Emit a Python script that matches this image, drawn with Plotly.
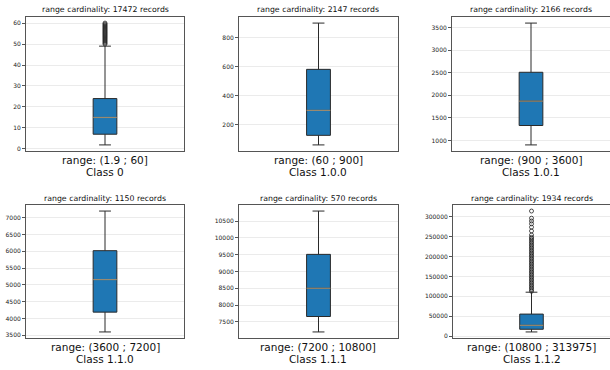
import plotly.graph_objects as go
from plotly.subplots import make_subplots

# ---- data ----
titles = ["range cardinality: 17472 records", "range cardinality: 2147 records",
          "range cardinality: 2166 records", "range cardinality: 1150 records",
          "range cardinality: 570 records", "range cardinality: 1934 records"]
range_labels = ["range: (1.9 ; 60]", "range: (60 ; 900]", "range: (900 ; 3600]",
                "range: (3600 ; 7200]", "range: (7200 ; 10800]", "range: (10800 ; 313975]"]
class_labels = ["Class 0", "Class 1.0.0", "Class 1.0.1", "Class 1.1.0", "Class 1.1.1", "Class 1.1.2"]

lower_whisker = [1.9, 60, 900, 3600, 7200, 10800]
q1_vals = [7, 126, 1330, 4190, 7660, 17500]
median_vals = [15, 298, 1870, 5160, 8500, 27400]
q3_vals = [24, 581, 2510, 6020, 9510, 55600]
upper_whisker = [49, 900, 3600, 7200, 10800, 110500]

outliers_0 = [50, 50.5, 51, 51.5, 52, 52.5, 53, 53.5, 54, 54.5, 55, 55.5, 56, 56.5,
              57, 57.5, 58, 58.5, 59, 59.5, 60]
outliers_5 = [113000, 117000, 121000, 125000, 129000, 133000, 137000, 141000, 145000,
              149000, 153000, 157000, 161000, 165000, 169000, 173000, 177000, 181000,
              185000, 189000, 193000, 197000, 201000, 205000, 209000, 213000, 217000,
              221000, 225000, 229000, 233000, 237000, 241000, 245000, 248000,
              254000, 264000, 273500, 282000, 289000, 296000, 313975]
outliers = [outliers_0, [], [], [], [], outliers_5]

y_ranges = [[-1.0, 62.9], [18, 942], [765, 3735], [3420, 7380], [7020, 10980], [-4359, 329134]]
tick_vals = [[0, 10, 20, 30, 40, 50, 60],
             [200, 400, 600, 800],
             [1000, 1500, 2000, 2500, 3000, 3500],
             [3500, 4000, 4500, 5000, 5500, 6000, 6500, 7000],
             [7500, 8000, 8500, 9000, 9500, 10000, 10500],
             [0, 50000, 100000, 150000, 200000, 250000, 300000]]

# ---- layout geometry (pixels) ----
W, H = 610, 370
x_px = [(26, 184), (239, 398), (452, 610), (26, 184), (239, 398), (453, 610)]
y_px = [(17, 151)] * 3 + [(205, 338)] * 3

FONT = "DejaVu Sans"
BOX_W = 0.15

fig = make_subplots(rows=2, cols=3)

for i in range(6):
    r, c = i // 3 + 1, i % 3 + 1
    fig.add_trace(go.Box(
        x=[1], q1=[q1_vals[i]], median=[median_vals[i]], q3=[q3_vals[i]],
        lowerfence=[lower_whisker[i]], upperfence=[upper_whisker[i]],
        width=BOX_W, whiskerwidth=0.5, boxpoints=False,
        fillcolor="#1f77b4", line=dict(color="#2a2a2a", width=1),
        showlegend=False, hoverinfo="skip"), row=r, col=c)
    # median line (matplotlib-style median)
    fig.add_trace(go.Scatter(
        x=[1 - BOX_W / 2, 1 + BOX_W / 2], y=[median_vals[i], median_vals[i]],
        mode="lines", line=dict(color="#9a8a70", width=1.2),
        showlegend=False, hoverinfo="skip"), row=r, col=c)
    if outliers[i]:
        fig.add_trace(go.Scatter(
            x=[1] * len(outliers[i]), y=outliers[i], mode="markers",
            marker=dict(symbol="circle-open", size=4, color="#222",
                        line=dict(width=0.8, color="#222")),
            showlegend=False, hoverinfo="skip"), row=r, col=c)

for i in range(6):
    r, c = i // 3 + 1, i % 3 + 1
    x0, x1 = x_px[i]
    y0, y1 = y_px[i]
    fig.update_xaxes(domain=[x0 / W, x1 / W], range=[0.5, 1.5], showticklabels=False,
                     ticks="", showgrid=False, zeroline=False, showline=True, mirror=True,
                     linecolor="#555", linewidth=1, automargin=False, row=r, col=c)
    fig.update_yaxes(domain=[1 - y1 / H, 1 - y0 / H], range=y_ranges[i],
                     tickvals=tick_vals[i], ticktext=[str(v) for v in tick_vals[i]],
                     ticks="outside", ticklen=3, tickcolor="#555",
                     tickwidth=0.8, tickfont=dict(family=FONT, size=6, color="#222"),
                     showgrid=True, gridcolor="#ebebeb", gridwidth=1, zeroline=False,
                     showline=True, mirror=True, linecolor="#555", linewidth=1,
                     automargin=False, row=r, col=c)
    xc = (x0 + x1) / 2 / W
    fig.add_annotation(text=titles[i], x=xc, y=1 - (y0 - 7) / H, xref="paper", yref="paper",
                       showarrow=False, xanchor="center", yanchor="middle",
                       font=dict(family=FONT, size=7.8, color="#111"))
    fig.add_annotation(text=range_labels[i], x=xc, y=1 - (y1 + 9) / H, xref="paper", yref="paper",
                       showarrow=False, xanchor="center", yanchor="middle",
                       font=dict(family=FONT, size=10.5, color="#111"))
    fig.add_annotation(text=class_labels[i], x=xc, y=1 - (y1 + 21) / H, xref="paper", yref="paper",
                       showarrow=False, xanchor="center", yanchor="middle",
                       font=dict(family=FONT, size=10.5, color="#111"))

fig.update_layout(width=W, height=H, margin=dict(l=0, r=0, t=0, b=0),
                  paper_bgcolor="white", plot_bgcolor="white",
                  font=dict(family=FONT))

fig.write_html("out.html", config={"displayModeBar": False},
               post_script="document.body.style.margin='0';document.body.style.overflow='hidden';")
